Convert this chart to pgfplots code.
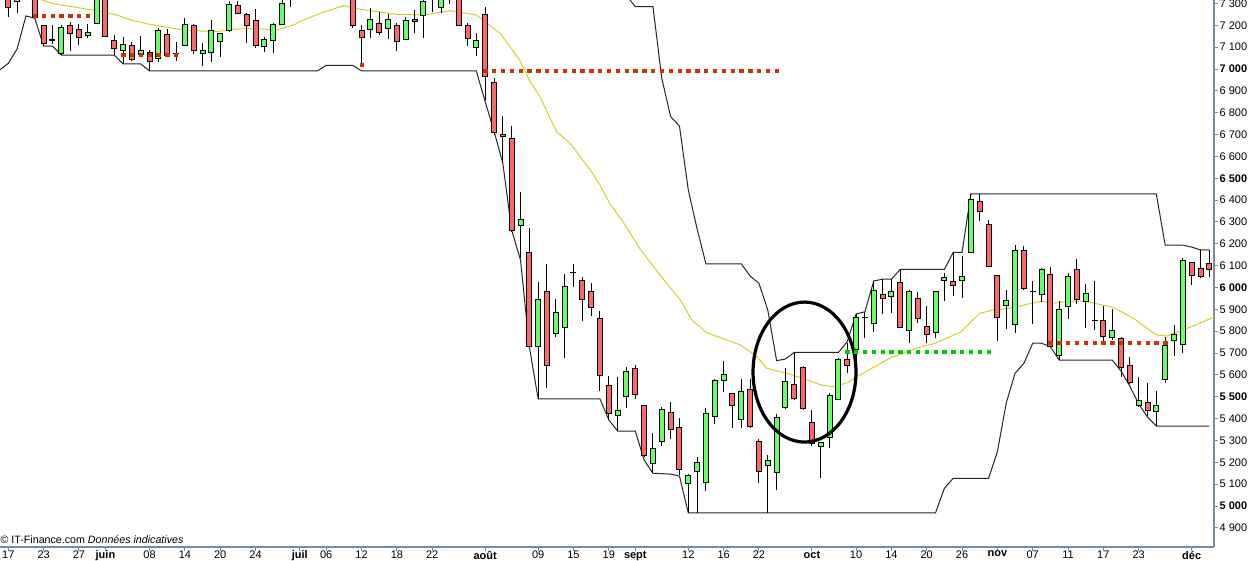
\documentclass[border=0pt]{standalone}
\usepackage{fontspec}
\setmainfont{Liberation Sans}
\usepackage{pgfplots}
\usepackage{pgfplotstable}
\pgfplotsset{compat=1.18}

\definecolor{upcol}{RGB}{102,255,102}
\definecolor{downcol}{RGB}{255,102,102}
\definecolor{macol}{RGB}{215,205,40}
\definecolor{axcol}{RGB}{122,140,153}
\definecolor{dotred}{RGB}{204,51,0}
\definecolor{dotgreen}{RGB}{0,204,0}

% 1 px = 0.75pt ; one index point = 0.2185 px
\def\yu{0.163875}
% half a pixel in index points (body border)
\def\bw{2.29}

% daily open / high / low / close
\pgfplotstableread{
i o h l c
0 7362 7385 7239 7282
1 7308 7371 7258 7352
2 7340 7370 7325 7355
3 7339 7362 7232 7237
4 7197 7201 7105 7118
5 7133 7201 7114 7131
6 7072 7201 7064 7191
7 7197 7217 7084 7163
8 7182 7206 7110 7145
9 7154 7206 7141 7169
10 7209 7352 7208 7330
11 7362 7385 7145 7151
12 7131 7156 7064 7095
13 7084 7145 7023 7113
14 7107 7125 7037 7044
15 7067 7151 7055 7084
16 7076 7087 6991 7035
17 7049 7189 7033 7177
18 7159 7183 7056 7064
19 7073 7125 7038 7071
20 7108 7235 7105 7205
21 7200 7206 7069 7084
22 7072 7120 7015 7086
23 7076 7224 7033 7174
24 7125 7165 7056 7163
25 7175 7311 7171 7296
26 7292 7311 7252 7255
27 7250 7256 7118 7200
28 7223 7273 7095 7109
29 7104 7145 7076 7136
30 7131 7209 7072 7205
31 7205 7325 7201 7302
32 7330 7380 7285 7360
33 7350 7400 7330 7390
34 7390 7420 7360 7370
35 7370 7410 7340 7400
36 7400 7430 7370 7380
37 7380 7420 7350 7410
38 7410 7440 7380 7395
39 7352 7385 7186 7197
40 7175 7201 7014 7145
41 7179 7278 7143 7228
42 7209 7260 7156 7168
43 7186 7250 7136 7228
44 7200 7212 7084 7127
45 7136 7237 7133 7221
46 7228 7270 7163 7218
47 7243 7330 7141 7308
48 7340 7370 7262 7330
49 7282 7343 7258 7330
50 7330 7360 7298 7345
51 7339 7362 7197 7200
52 7200 7212 7107 7141
53 7099 7163 7060 7130
54 7250 7285 6858 6965
55 6939 6957 6698 6710
56 6698 6785 6570 6693
57 6683 6739 6254 6259
58 6286 6437 6135 6312
59 6161 6272 5728 5732
60 5732 6025 5490 5946
61 5983 6108 5539 5645
62 5790 5946 5772 5886
63 5818 6060 5676 6004
64 6068 6108 6004 6070
65 6033 6048 5848 5943
66 5983 6019 5871 5909
67 5859 5891 5528 5598
68 5552 5595 5394 5424
69 5415 5589 5343 5439
70 5500 5635 5450 5616
71 5630 5645 5490 5511
72 5458 5462 5223 5229
73 5195 5333 5150 5264
74 5297 5452 5276 5442
75 5429 5476 5308 5348
76 5360 5401 5142 5168
77 5104 5146 4969 5140
78 5160 5226 4969 5198
79 5108 5447 5070 5424
80 5409 5580 5374 5575
81 5575 5664 5523 5603
82 5516 5517 5358 5461
83 5397 5580 5358 5526
84 5531 5580 5358 5363
85 5297 5307 5107 5157
86 5184 5233 4969 5209
87 5154 5420 5073 5406
88 5452 5630 5444 5571
89 5557 5703 5485 5493
90 5636 5641 5439 5447
91 5381 5439 5274 5287
92 5274 5293 5127 5291
93 5314 5517 5264 5507
94 5488 5677 5485 5671
95 5671 5745 5607 5645
96 5717 5879 5653 5864
97 5863 5889 5770 5865
98 5836 6030 5798 5985
99 5969 6038 5877 5951
100 5958 6038 5885 5983
101 6024 6083 5813 5818
102 5804 5989 5747 5983
103 5951 5978 5836 5856
104 5822 5915 5745 5783
105 5795 5986 5767 5983
106 6030 6065 5938 6047
107 6027 6161 5962 6010
108 6030 6144 5951 6049
109 6161 6428 6158 6404
110 6393 6428 6306 6350
111 6289 6309 6092 6098
112 6056 6057 5756 5865
113 5918 5989 5809 5940
114 5832 6194 5793 6170
115 6170 6190 5989 5996
116 5984 6030 5832 5982
117 5966 6088 5935 6083
118 6060 6092 5728 5732
119 5691 5938 5668 5900
120 5915 6065 5854 6049
121 6083 6129 5924 5947
122 5938 6015 5813 5973
123 5848 6030 5805 5847
124 5850 5915 5755 5778
125 5772 5903 5760 5805
126 5767 5773 5592 5636
127 5644 5683 5558 5566
128 5461 5589 5453 5485
129 5475 5564 5412 5435
130 5432 5526 5366 5458
131 5580 5775 5564 5735
132 5756 5828 5686 5786
133 5740 6134 5702 6124
134 6115 6117 6011 6056
135 6088 6172 6045 6049
136 6111 6172 6049 6083
}\candles

\pgfplotsset{
  bar from data/.style={draw=none, mark=none, forget plot,
    error bars/.cd, y dir=plus, y explicit, error mark=none,
    error bar style={line cap=butt, #1}, /pgfplots/.cd},
}

\begin{document}
\begin{tikzpicture}
\begin{axis}[
  name=ax, at={(0,0)}, anchor=south west,
  x=6.62325pt, y=\yu pt,
  xmin=-0.94, xmax=136.53, ymin=4812.4, ymax=7315.8,
  axis x line*=bottom, axis y line*=right,
  axis line style={-, draw=axcol, line width=0.9pt},
  tick align=outside, major tick length=3pt,
  tick style={draw=axcol, line width=0.75pt},
  xtick={0,4,8,11,16,20,24,28,33,36,40,44,48,54,60,64,68,71,77,81,85,91,96,100,104,108,112,116,120,124,128,134},
  xticklabels={17,23,27,\textbf{juin},08,14,20,24,\textbf{juil},06,12,18,22,\textbf{août},09,15,19,\textbf{sept},12,16,22,\textbf{oct},10,14,20,26,\textbf{nov},07,11,17,23,\textbf{déc}},
  ytick={4900,5000,...,7300},
  yticklabels={4 900,\textbf{5 000},5 100,5 200,5 300,5 400,\textbf{5 500},5 600,5 700,5 800,5 900,\textbf{6 000},6 100,6 200,6 300,6 400,\textbf{6 500},6 600,6 700,6 800,6 900,\textbf{7 000},7 100,7 200,7 300},
  tick label style={font=\fontsize{8.25}{9}\selectfont, text=black, inner sep=1pt},
  xticklabel style={yshift=1.2pt},
]

% moving average
\addplot[macol, line width=0.75pt] coordinates {
(0,7370) (3.8,7316) (5.1,7298) (7.7,7282) (10,7267) (12.3,7247) (14.1,7221)
(16,7205) (19.1,7183) (21.7,7174) (23.6,7171) (25.5,7182) (27.4,7186) (30.4,7179)
(32.3,7201) (33,7217) (35.3,7255) (38,7290) (39.1,7278) (44,7250) (47,7247)
(50,7267) (53,7247) (55.7,7163) (57.9,7041) (59.1,6942) (60.2,6873) (62.1,6713)
(63.6,6660) (65.9,6538) (67,6469) (68.1,6385) (69.6,6301) (71.5,6179) (73.8,6057)
(76.1,5943) (77.4,5851) (79.1,5793) (82.9,5737) (84.8,5683) (85.9,5630) (88.2,5607)
(90.5,5577) (92,5554) (93.4,5546) (95,5564) (96.9,5610) (99.8,5676) (102.8,5722)
(105.1,5747) (107.9,5798) (110,5882) (111.5,5897) (113.4,5905) (117,5938) (118.3,5928)
(119.8,5935) (121.9,5938) (125.1,5909) (127.4,5859) (130,5783) (131.2,5778)
(133.5,5813) (136.5,5864)
};

% upper channel
\addplot[black!85, line width=0.75pt] coordinates {
(68,7460) (69,7400) (70,7337) (71,7285) (72,7285) (73,7285) (74,6957) (75,6782)
(76,6739) (77,6446) (78,6268) (79,6108) (83,6108) (84,6053) (85,6019) (86,5897)
(87,5665) (88,5673) (89,5703) (94,5703) (95,5752) (96,5879) (97,5889) (98,6030)
(99,6038) (100,6038) (101,6083) (106,6083) (107,6161) (108,6161) (109,6428)
(130,6428) (131,6194) (133,6194) (134,6185) (135,6172) (136,6172)
};

% lower channel
\addplot[black!85, line width=0.75pt] coordinates {
(-1,6995) (0,7026) (1,7092) (2,7243) (3,7232) (4,7105) (5,7105) (6,7064) (12,7064)
(13,7023) (15,7023) (16,6991) (35,6991) (36,7017) (39,7017) (40,6991) (53,6991)
(54,6850) (55,6716) (56,6568) (57,6263) (58,6126) (59,5729) (60,5490) (67,5490)
(68,5394) (69,5343) (71,5343) (72,5210) (73,5150) (75,5146) (76,5137) (77,4969)
(105,4969) (106,5081) (107,5127) (111,5127) (112,5248) (113,5471) (114,5607)
(115,5653) (116,5745) (117,5745) (118,5729) (119,5668) (125,5668) (126,5618)
(127,5549) (128,5467) (129,5407) (130,5366) (136,5366)
};

% dotted support / resistance levels
\addplot[dotred, only marks, mark=square*, mark size=1.25pt, mark options={draw=none, fill=dotred}] coordinates {
(3,7244) (4,7244) (5,7244) (6,7244) (7,7244) (8,7244) (9,7244)
(13,7064) (14,7064) (15,7064) (16,7064) (17,7064) (18,7064) (19,7064)
(40,7018)
(118,5747) (119,5747) (120,5747) (121,5747) (122,5747) (123,5747) (124,5747)
(125,5747) (126,5747) (127,5747) (128,5747) (129,5747) (130,5747) (131,5747)
(54,6991) (55,6991) (56,6991) (57,6991) (58,6991) (59,6991) (60,6991) (61,6991)
(62,6991) (63,6991) (64,6991) (65,6991) (66,6991) (67,6991) (68,6991) (69,6991)
(70,6991) (71,6991) (72,6991) (73,6991) (74,6991) (75,6991) (76,6991) (77,6991)
(78,6991) (79,6991) (80,6991) (81,6991) (82,6991) (83,6991) (84,6991) (85,6991)
(86,6991) (87,6991)
};
\addplot[dotgreen, only marks, mark=square*, mark size=1.25pt, mark options={draw=none, fill=dotgreen}] coordinates {
(32,7319) (33,7319) (34,7319) (35,7319) (36,7319) (37,7319) (38,7319)
(95,5706) (96,5706) (97,5706) (98,5706) (99,5706) (100,5706) (101,5706) (102,5706)
(103,5706) (104,5706) (105,5706) (106,5706) (107,5706) (108,5706) (109,5706)
(110,5706) (111,5706)
};

% candles: wicks, body outline, then body fill
\addplot[bar from data={draw=black, line width=0.75pt}]
  table[x=i, y=l, y error expr=\thisrow{h}-\thisrow{l}] {\candles};
\addplot[bar from data={draw=black, line width=4.5pt}]
  table[x=i, y expr={min(\thisrow{o},\thisrow{c})-\bw},
        y error expr={abs(\thisrow{c}-\thisrow{o})+2*\bw}] {\candles};
\addplot[restrict expr to domain={\thisrow{c}-\thisrow{o}}{4.6:100000},
  bar from data={draw=upcol, line width=3pt}]
  table[x=i, y expr={\thisrow{o}+\bw},
        y error expr={\thisrow{c}-\thisrow{o}-2*\bw}] {\candles};
\addplot[restrict expr to domain={\thisrow{o}-\thisrow{c}}{4.6:100000},
  bar from data={draw=downcol, line width=3pt}]
  table[x=i, y expr={\thisrow{c}+\bw},
        y error expr={\thisrow{o}-\thisrow{c}-2*\bw}] {\candles};

\draw[line width=2.4pt] (axis cs:90.16,5613) ellipse [x radius=38.6pt, y radius=52.5pt];

\node[anchor=west, inner sep=0pt, xshift=0.3pt, yshift=5.25pt,
  font=\fontsize{8}{9}\selectfont] at (rel axis cs:0,0)
  {© IT-Finance.com \textit{Données indicatives}};
\end{axis}
\pgfresetboundingbox
\path[use as bounding box] ([yshift=-9.75pt]ax.south west) rectangle ([xshift=26.25pt]ax.north east);
\end{tikzpicture}
\end{document}
